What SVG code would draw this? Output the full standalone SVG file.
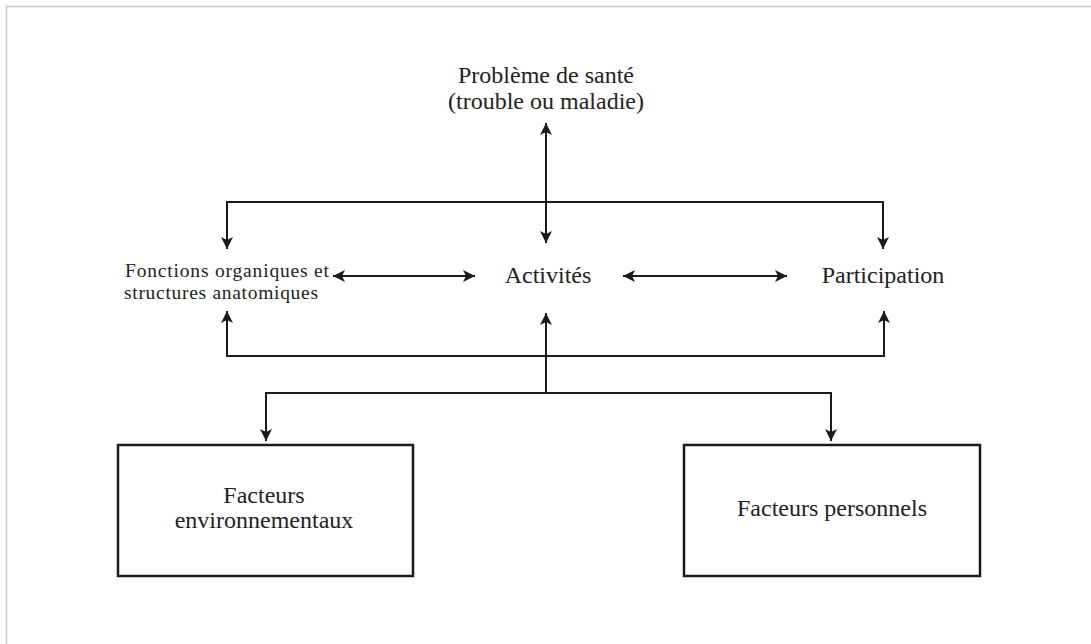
<svg xmlns="http://www.w3.org/2000/svg" width="1091" height="644" viewBox="0 0 1091 644">
<style>
.t{font-family:"Liberation Serif","Times New Roman",serif;fill:#222;text-anchor:middle}
.big{font-size:24px}
.small{font-size:19.5px}
.c{fill:none;stroke:#1a1a1a;stroke-width:2}
.box{fill:#fff;stroke:#1a1a1a;stroke-width:2.5}
</style>
<defs>
<marker id="ah" markerUnits="userSpaceOnUse" markerWidth="12" markerHeight="12" refX="12" refY="6" orient="auto-start-reverse">
<path d="M0,0 L12,6 L0,12 L3,6 z" fill="#1a1a1a"/>
</marker>
</defs>
<rect x="6.5" y="6.5" width="1100" height="700" fill="#fff" stroke="#c8c8c8" stroke-width="1.5"/>
<g id="connectors">
<path class="c" d="M546,123 V243" marker-start="url(#ah)" marker-end="url(#ah)"/>
<path class="c" d="M227,249 V202 H883 V249" marker-start="url(#ah)" marker-end="url(#ah)"/>
<path class="c" d="M227,311 V356 H884 V311" marker-start="url(#ah)" marker-end="url(#ah)"/>
<path class="c" d="M546,393 V313" marker-end="url(#ah)"/>
<path class="c" d="M266,441 V393 H831 V441" marker-start="url(#ah)" marker-end="url(#ah)"/>
<path class="c" d="M333,276 H475" marker-start="url(#ah)" marker-end="url(#ah)"/>
<path class="c" d="M623,276 H787" marker-start="url(#ah)" marker-end="url(#ah)"/>
</g>
<g id="probleme">
<text class="t big" x="546" y="83">Problème de santé</text>
<text class="t big" x="546" y="109">(trouble ou maladie)</text>
</g>
<g id="fonctions">
<text class="t small" x="227" y="277" textLength="204" lengthAdjust="spacing">Fonctions organiques et</text>
<text class="t small" x="221" y="299" textLength="194" lengthAdjust="spacing">structures anatomiques</text>
</g>
<g id="activites">
<text class="t big" x="548" y="283">Activités</text>
</g>
<g id="participation">
<text class="t big" x="883" y="283">Participation</text>
</g>
<g id="env">
<rect class="box" x="118" y="445" width="295" height="131"/>
<text class="t big" x="264" y="503">Facteurs</text>
<text class="t big" x="264" y="528">environnementaux</text>
</g>
<g id="perso">
<rect class="box" x="684" y="445" width="296" height="131"/>
<text class="t big" x="832" y="516">Facteurs personnels</text>
</g>
</svg>
